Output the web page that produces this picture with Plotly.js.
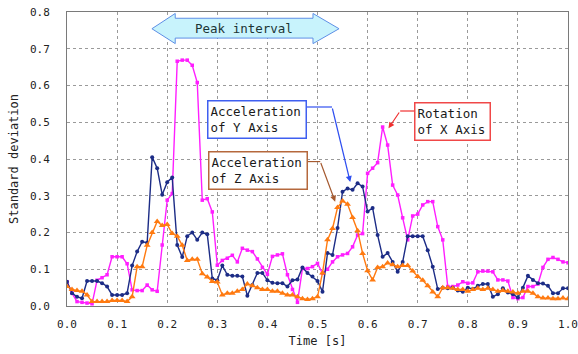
<!DOCTYPE html>
<html>
<head>
<meta charset="utf-8">
<script src="https://cdn.plot.ly/plotly-3.0.1.min.js"></script>
<style>
  html, body { margin: 0; padding: 0; background: #ffffff; }
  #chart { width: 578px; height: 354px; }
</style>
</head>
<body>
<div id="chart"></div>
<script>
// Sample times [s]
const time = [
  0.00, 0.01, 0.02, 0.03, 0.04, 0.05, 0.06, 0.07, 0.08, 0.09,
  0.10, 0.11, 0.12, 0.13, 0.14, 0.15, 0.16, 0.17, 0.18, 0.19,
  0.20, 0.21, 0.22, 0.23, 0.24, 0.25, 0.26, 0.27, 0.28, 0.29,
  0.30, 0.31, 0.32, 0.33, 0.34, 0.35, 0.36, 0.37, 0.38, 0.39,
  0.40, 0.41, 0.42, 0.43, 0.44, 0.45, 0.46, 0.47, 0.48, 0.49,
  0.50, 0.51, 0.52, 0.53, 0.54, 0.55, 0.56, 0.57, 0.58, 0.59,
  0.60, 0.61, 0.62, 0.63, 0.64, 0.65, 0.66, 0.67, 0.68, 0.69,
  0.70, 0.71, 0.72, 0.73, 0.74, 0.75, 0.76, 0.77, 0.78, 0.79,
  0.80, 0.81, 0.82, 0.83, 0.84, 0.85, 0.86, 0.87, 0.88, 0.89,
  0.90, 0.91, 0.92, 0.93, 0.94, 0.95, 0.96, 0.97, 0.98, 0.99,
  1.00
];

// Standard deviation of the Y-axis acceleration
const accelY = [
  0.066, 0.035, 0.025, 0.021, 0.068, 0.068, 0.068, 0.062, 0.053, 0.030,
  0.030, 0.030, 0.035, 0.110, 0.148, 0.175, 0.172, 0.405, 0.375, 0.303,
  0.337, 0.350, 0.166, 0.133, 0.190, 0.200, 0.180, 0.200, 0.195, 0.075,
  0.070, 0.110, 0.085, 0.082, 0.082, 0.080, 0.028, 0.057, 0.090, 0.090,
  0.070, 0.063, 0.062, 0.062, 0.053, 0.070, 0.072, 0.105, 0.090, 0.080,
  0.068, 0.039, 0.144, 0.139, 0.212, 0.311, 0.320, 0.316, 0.334, 0.325,
  0.257, 0.267, 0.193, 0.134, 0.144, 0.120, 0.093, 0.120, 0.190, 0.190,
  0.190, 0.190, 0.152, 0.107, 0.046, 0.050, 0.048, 0.050, 0.042, 0.039,
  0.050, 0.046, 0.055, 0.060, 0.060, 0.025, 0.032, 0.048, 0.037, 0.032,
  0.023, 0.050, 0.082, 0.071, 0.062, 0.061, 0.055, 0.035, 0.035, 0.048,
  0.048
];

// Standard deviation of the Z-axis acceleration
const accelZ = [
  0.053, 0.045, 0.042, 0.040, 0.030, 0.012, 0.012, 0.012, 0.012, 0.015,
  0.015, 0.015, 0.012, 0.025, 0.107, 0.107, 0.165, 0.200, 0.230, 0.219,
  0.222, 0.197, 0.190, 0.165, 0.124, 0.127, 0.127, 0.088, 0.079, 0.067,
  0.065, 0.030, 0.035, 0.035, 0.040, 0.045, 0.060, 0.055, 0.050, 0.045,
  0.045, 0.040, 0.040, 0.035, 0.030, 0.030, 0.025, 0.020, 0.018, 0.020,
  0.025, 0.090, 0.180, 0.211, 0.268, 0.286, 0.277, 0.241, 0.205, 0.143,
  0.096, 0.071, 0.105, 0.107, 0.117, 0.112, 0.107, 0.110, 0.110, 0.095,
  0.080, 0.070, 0.055, 0.038, 0.025, 0.050, 0.050, 0.048, 0.045, 0.045,
  0.040, 0.045, 0.048, 0.045, 0.048, 0.045, 0.040, 0.042, 0.040, 0.038,
  0.035, 0.040, 0.040, 0.035, 0.025, 0.022, 0.022, 0.020, 0.020, 0.022,
  0.020
];

// Standard deviation of the X-axis rotation
const rotationX = [
  0.066, 0.035, 0.012, 0.010, 0.008, 0.006, 0.070, 0.077, 0.085, 0.134,
  0.134, 0.134, 0.115, 0.044, 0.042, 0.042, 0.057, 0.044, 0.040, 0.166,
  0.288, 0.306, 0.666, 0.669, 0.669, 0.655, 0.608, 0.288, 0.292, 0.256,
  0.111, 0.124, 0.130, 0.138, 0.120, 0.157, 0.152, 0.148, 0.128, 0.105,
  0.086, 0.135, 0.139, 0.142, 0.085, 0.045, 0.010, 0.102, 0.102, 0.107,
  0.116, 0.089, 0.100, 0.120, 0.134, 0.139, 0.143, 0.161, 0.193, 0.197,
  0.361, 0.375, 0.390, 0.487, 0.438, 0.329, 0.302, 0.240, 0.180, 0.245,
  0.250, 0.275, 0.284, 0.284, 0.216, 0.180, 0.053, 0.053, 0.057, 0.066,
  0.062, 0.063, 0.093, 0.095, 0.095, 0.093, 0.071, 0.071, 0.068, 0.023,
  0.020, 0.023, 0.053, 0.053, 0.060, 0.105, 0.127, 0.132, 0.127, 0.120,
  0.118
];

const seriesNames = ['Acceleration<br>of Y Axis', 'Acceleration<br>of Z Axis', 'Rotation<br>of X Axis'];
const tickValuesX = [0.0, 0.1, 0.2, 0.3, 0.4, 0.5, 0.6, 0.7, 0.8, 0.9, 1.0];
const tickValuesY = [0.0, 0.1, 0.2, 0.3, 0.4, 0.5, 0.6, 0.7, 0.8];
const peakLabel = 'Peak interval';

const MONO = '"DejaVu Sans Mono", "Liberation Mono", monospace';
const C_Y = '#1c2c86';
const C_Z = '#ff7a10';
const C_X = '#ff1eff';

const traces = [
  {
    x: time, y: rotationX, type: 'scatter', mode: 'lines+markers',
    name: 'Rotation of X Axis',
    line: { color: C_X, width: 1.4 },
    marker: { symbol: 'square', size: 3.5, color: C_X }
  },
  {
    x: time, y: accelY, type: 'scatter', mode: 'lines+markers',
    name: 'Acceleration of Y Axis',
    line: { color: C_Y, width: 1.4 },
    marker: { symbol: 'circle', size: 4, color: C_Y }
  },
  {
    x: time, y: accelZ, type: 'scatter', mode: 'lines+markers',
    name: 'Acceleration of Z Axis',
    line: { color: C_Z, width: 1.4 },
    marker: { symbol: 'triangle-up', size: 6, color: C_Z }
  }
];

// Double-headed "peak interval" arrow, drawn in data coordinates
const arrowPath = 'M 0.1695,0.7545 L 0.216,0.796 L 0.216,0.783 L 0.491,0.783 L 0.491,0.796 ' +
                  'L 0.543,0.7545 L 0.491,0.714 L 0.491,0.729 L 0.216,0.729 L 0.216,0.714 Z';

const shapes = [
  { type: 'path', xref: 'x', yref: 'y', path: arrowPath,
    fillcolor: '#c8f3fc', line: { color: '#5d8fe6', width: 1 } },
  // horizontal parts of the leader lines
  { type: 'line', xref: 'x', yref: 'y', x0: 0.479, x1: 0.529, y0: 0.5415, y1: 0.5415,
    line: { color: '#2f4ff0', width: 1.2 } },
  { type: 'line', xref: 'x', yref: 'y', x0: 0.479, x1: 0.5055, y0: 0.393, y1: 0.393,
    line: { color: '#a55a30', width: 1.2 } },
  { type: 'line', xref: 'x', yref: 'y', x0: 0.6935, x1: 0.665, y0: 0.5306, y1: 0.5306,
    line: { color: '#f03030', width: 1.2 } }
];

function box(text, x, y, border, w) {
  return {
    xref: 'x', yref: 'y', x: x, y: y, text: text, showarrow: false,
    align: 'left', xanchor: 'center', yanchor: 'middle',
    font: { family: MONO, size: 12.5, color: '#1a1a1a' },
    bgcolor: '#ffffff', bordercolor: border, borderwidth: 1.5, borderpad: 2,
    width: w, height: 32
  };
}

function pointer(x, y, ax, ay, color) {
  return {
    xref: 'x', yref: 'y', axref: 'x', ayref: 'y',
    x: x, y: y, ax: ax, ay: ay, text: '', showarrow: true,
    arrowhead: 2, arrowsize: 1, arrowwidth: 1.2, arrowcolor: color
  };
}

const annotations = [
  { xref: 'x', yref: 'y', x: 0.3537, y: 0.7545, text: peakLabel, showarrow: false,
    font: { family: MONO, size: 12.5, color: '#1b3535' } },
  box(seriesNames[0], 0.380, 0.5083, '#3f5ff0', 93),
  box(seriesNames[1], 0.3807, 0.368, '#b5683c', 93),
  box(seriesNames[2], 0.7692, 0.5012, '#f04848', 70),
  pointer(0.5653, 0.3374, 0.529, 0.5415, '#2f4ff0'),
  pointer(0.5353, 0.2838, 0.5055, 0.393, '#a55a30'),
  pointer(0.6417, 0.4835, 0.665, 0.5306, '#f03030')
];

const axisCommon = {
  showgrid: true, gridcolor: '#9a9a9a', griddash: 'dot', gridwidth: 1,
  showline: true, linecolor: '#7a7a7a', linewidth: 1, mirror: true,
  zeroline: false, tickformat: '.1f',
  ticks: 'outside', tickcolor: 'rgba(0,0,0,0)',
  tickfont: { family: MONO, size: 11, color: '#222222' }
};

const layout = {
  width: 578, height: 354,
  margin: { l: 67, r: 10, t: 12, b: 48 },
  paper_bgcolor: '#ffffff', plot_bgcolor: '#ffffff',
  showlegend: false,
  xaxis: Object.assign({}, axisCommon, {
    range: [0, 1.0], tickvals: tickValuesX, ticklen: 8,
    title: { text: 'Time [s]', font: { family: MONO, size: 12, color: '#222222' }, standoff: 6 }
  }),
  yaxis: Object.assign({}, axisCommon, {
    range: [0, 0.8], tickvals: tickValuesY, ticklen: 14,
    title: { text: 'Standard deviation', font: { family: MONO, size: 12, color: '#222222' }, standoff: 8 }
  }),
  shapes: shapes,
  annotations: annotations
};

Plotly.newPlot('chart', traces, layout, { staticPlot: true, displayModeBar: false });
</script>
</body>
</html>
